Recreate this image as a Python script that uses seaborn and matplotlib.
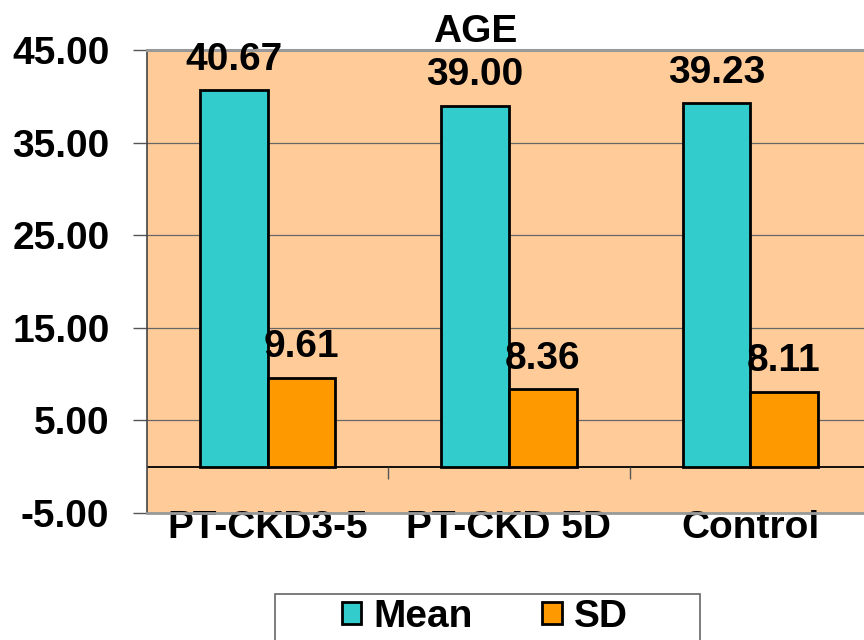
import numpy as np
import pandas as pd
import matplotlib
matplotlib.use("Agg")
import matplotlib.pyplot as plt
import matplotlib.patches as mpatches
import seaborn as sns

# Age by group: mean and standard deviation
groups = ["PT-CKD3-5", "PT-CKD 5D", "Control"]
mean_age = [40.67, 39.00, 39.23]
sd_age = [9.61, 8.36, 8.11]
series_names = ["Mean", "SD"]
y_ticks = [-5, 5, 15, 25, 35, 45]

df = pd.DataFrame({
    "Group": groups * 2,
    "Series": [series_names[0]] * len(groups) + [series_names[1]] * len(groups),
    "Value": mean_age + sd_age,
})

sns.set_style("white")
plt.rcParams["font.family"] = ["Liberation Sans", "DejaVu Sans"]
plt.rcParams["font.weight"] = "bold"
plt.rcParams["text.color"] = "black"
plt.rcParams["xtick.labelcolor"] = "black"
plt.rcParams["ytick.labelcolor"] = "black"

fig = plt.figure(figsize=(8.64, 6.4), dpi=100)
ax = fig.add_axes([147 / 864, 1 - 513 / 640, 724 / 864, 463 / 640])
ax.set_facecolor("#FFCC99")

palette = {"Mean": "#33CCCC", "SD": "#FF9900"}
sns.barplot(data=df, x="Group", y="Value", hue="Series", order=groups,
            hue_order=series_names, palette=palette, width=0.56,
            edgecolor="black", linewidth=2, saturation=1, ax=ax,
            legend=False, zorder=3)

ax.set_ylim(-5, 45)
ax.set_xlim(-0.5, len(groups) - 0.5)
ax.set_yticks(y_ticks)
ax.set_yticklabels([f"{v:.2f}" for v in y_ticks], fontsize=28,
                   fontweight="bold", color="black")
ax.set_xticks(range(len(groups)))
ax.set_xticklabels(groups, fontsize=28, fontweight="bold", color="black")
ax.set_xlabel("")
ax.set_ylabel("")

ax.set_axisbelow(True)
ax.yaxis.grid(True, color="#666666", linewidth=0.9)
ax.xaxis.grid(False)
ax.tick_params(axis="y", length=10, width=1, color="#555555", pad=17, left=True)
ax.tick_params(axis="x", length=0, pad=-2)

for side in ["top", "bottom", "left", "right"]:
    ax.spines[side].set_visible(True)
ax.spines["top"].set_color("#999999")
ax.spines["top"].set_linewidth(2.2)
ax.spines["bottom"].set_color("#999999")
ax.spines["bottom"].set_linewidth(2)
ax.spines["left"].set_color("#444444")
ax.spines["left"].set_linewidth(1.2)
ax.spines["right"].set_visible(False)

# zero baseline with small separators between groups
ax.axhline(0, color="black", linewidth=1.3, zorder=2)
ax.vlines(np.arange(len(groups) - 1) + 0.5, -1.3, 0, color="#555555",
          linewidth=1, zorder=2)

for container in ax.containers:
    ax.bar_label(container, fmt="%.2f", padding=9, fontsize=28,
                 fontweight="bold", color="black")

fig.text(475 / 864, 1 - 42 / 640, "AGE", ha="center", va="baseline",
         fontsize=28, fontweight="bold", color="black")

# legend along the bottom edge
handles = [mpatches.Patch(facecolor=palette[s], edgecolor="black", linewidth=2)
           for s in series_names]
leg = fig.legend(handles, series_names, loc="center left",
                 bbox_to_anchor=(342 / 864, 1 - 617 / 640), ncol=2,
                 frameon=False, prop={"weight": "bold", "size": 28},
                 handlelength=0.5, handleheight=0.5, handletextpad=0.3,
                 columnspacing=1.8, borderaxespad=0, borderpad=0)
for t in leg.get_texts():
    t.set_color("black")
fig.patches.append(mpatches.Rectangle((275 / 864, -0.1), 425 / 864,
                                      (640 - 594) / 640 + 0.1,
                                      transform=fig.transFigure,
                                      facecolor="none", edgecolor="#666666",
                                      linewidth=1.2))

fig.savefig("out.png", dpi=100)
